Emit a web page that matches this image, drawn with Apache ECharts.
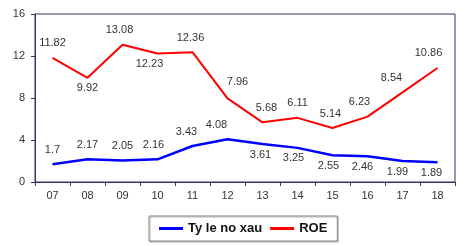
<!DOCTYPE html>
<html><head><meta charset="utf-8">
<script src="https://cdn.jsdelivr.net/npm/echarts@6/dist/echarts.min.js"></script>
<style>html,body{margin:0;padding:0;background:#fff}#c{width:475px;height:246px}</style>
</head><body><div id="c"></div>
<script>
var categories = ['07','08','09','10','11','12','13','14','15','16','17','18'];
var nplRatio = [1.7, 2.17, 2.05, 2.16, 3.43, 4.08, 3.61, 3.25, 2.55, 2.46, 1.99, 1.89];
var roe = [11.82, 9.92, 13.08, 12.23, 12.36, 7.96, 5.68, 6.11, 5.14, 6.23, 8.54, 10.86];
var yTicks = [0, 4, 8, 12, 16];

// label placement (style only)
var roePos = ['top','bottom','top','bottom','top','top','top','top','top','top','top','top'];
var roeOff = [[0,0],[0,0],[-3,0],[-8,0],[-2,0],[10,-2],[4,0],[0,0],[-2,0],[-8,0],[-11,0],[-9,0]];
var nplPos = ['top','top','top','top','top','top','bottom','bottom','bottom','bottom','bottom','bottom'];
var nplOff = [[0,0],[0,0],[0,0],[-4,0],[-6,0],[-11,0],[-2,0],[-4,0],[-4,0],[-5,0],[-5,0],[-6,0]];

function build(vals, pos, off) {
  return vals.map(function (v, i) {
    return { value: v, label: { position: pos[i], offset: off[i], distance: pos[i] === 'top' ? 9 : 5 } };
  });
}
var axisCol = '#333366';
var chart = echarts.init(document.getElementById('c'), null, {renderer: 'canvas'});
chart.setOption({
  animation: false,
  textStyle: { fontFamily: 'Liberation Sans, Arial, sans-serif' },
  grid: { left: 35, right: 20, top: 14, bottom: 64, show: true, borderColor: axisCol, borderWidth: 1 },
  legend: {
    left: 149, top: 216,
    padding: [6, 10, 6, 10],
    itemGap: 8, itemWidth: 24, itemHeight: 3,
    icon: 'rect',
    borderColor: '#888', borderWidth: 1,
    backgroundColor: '#fff',
    shadowColor: 'rgba(0,0,0,0.3)', shadowOffsetX: 1, shadowOffsetY: 1, shadowBlur: 1,
    textStyle: { fontWeight: 'bold', fontSize: 13, color: '#111', fontFamily: 'Liberation Sans, Arial, sans-serif' },
    data: ['Ty le no xau', 'ROE']
  },
  xAxis: {
    type: 'category', data: categories, boundaryGap: true,
    axisLine: { lineStyle: { color: axisCol } },
    axisTick: { show: true, length: 4, lineStyle: { color: axisCol } },
    axisLabel: { color: '#333', fontSize: 11, margin: 8 }
  },
  yAxis: {
    type: 'value', min: yTicks[0], max: yTicks[yTicks.length - 1], interval: 4,
    splitLine: { show: false },
    axisLine: { show: true, lineStyle: { color: axisCol } },
    axisTick: { show: true, length: 4, lineStyle: { color: axisCol } },
    axisLabel: { color: '#333', fontSize: 11, margin: 10 }
  },
  series: [
    {
      name: 'Ty le no xau', type: 'line', data: build(nplRatio, nplPos, nplOff),
      symbol: 'circle', symbolSize: 0.01, showSymbol: true,
      lineStyle: { color: '#0000ff', width: 2.5 }, itemStyle: { color: '#0000ff' },
      label: { show: true, color: '#333', fontSize: 11 }
    },
    {
      name: 'ROE', type: 'line', data: build(roe, roePos, roeOff),
      symbol: 'circle', symbolSize: 0.01, showSymbol: true,
      lineStyle: { color: '#ff0000', width: 2 }, itemStyle: { color: '#ff0000' },
      label: { show: true, color: '#333', fontSize: 11 }
    }
  ]
});
</script></body></html>
